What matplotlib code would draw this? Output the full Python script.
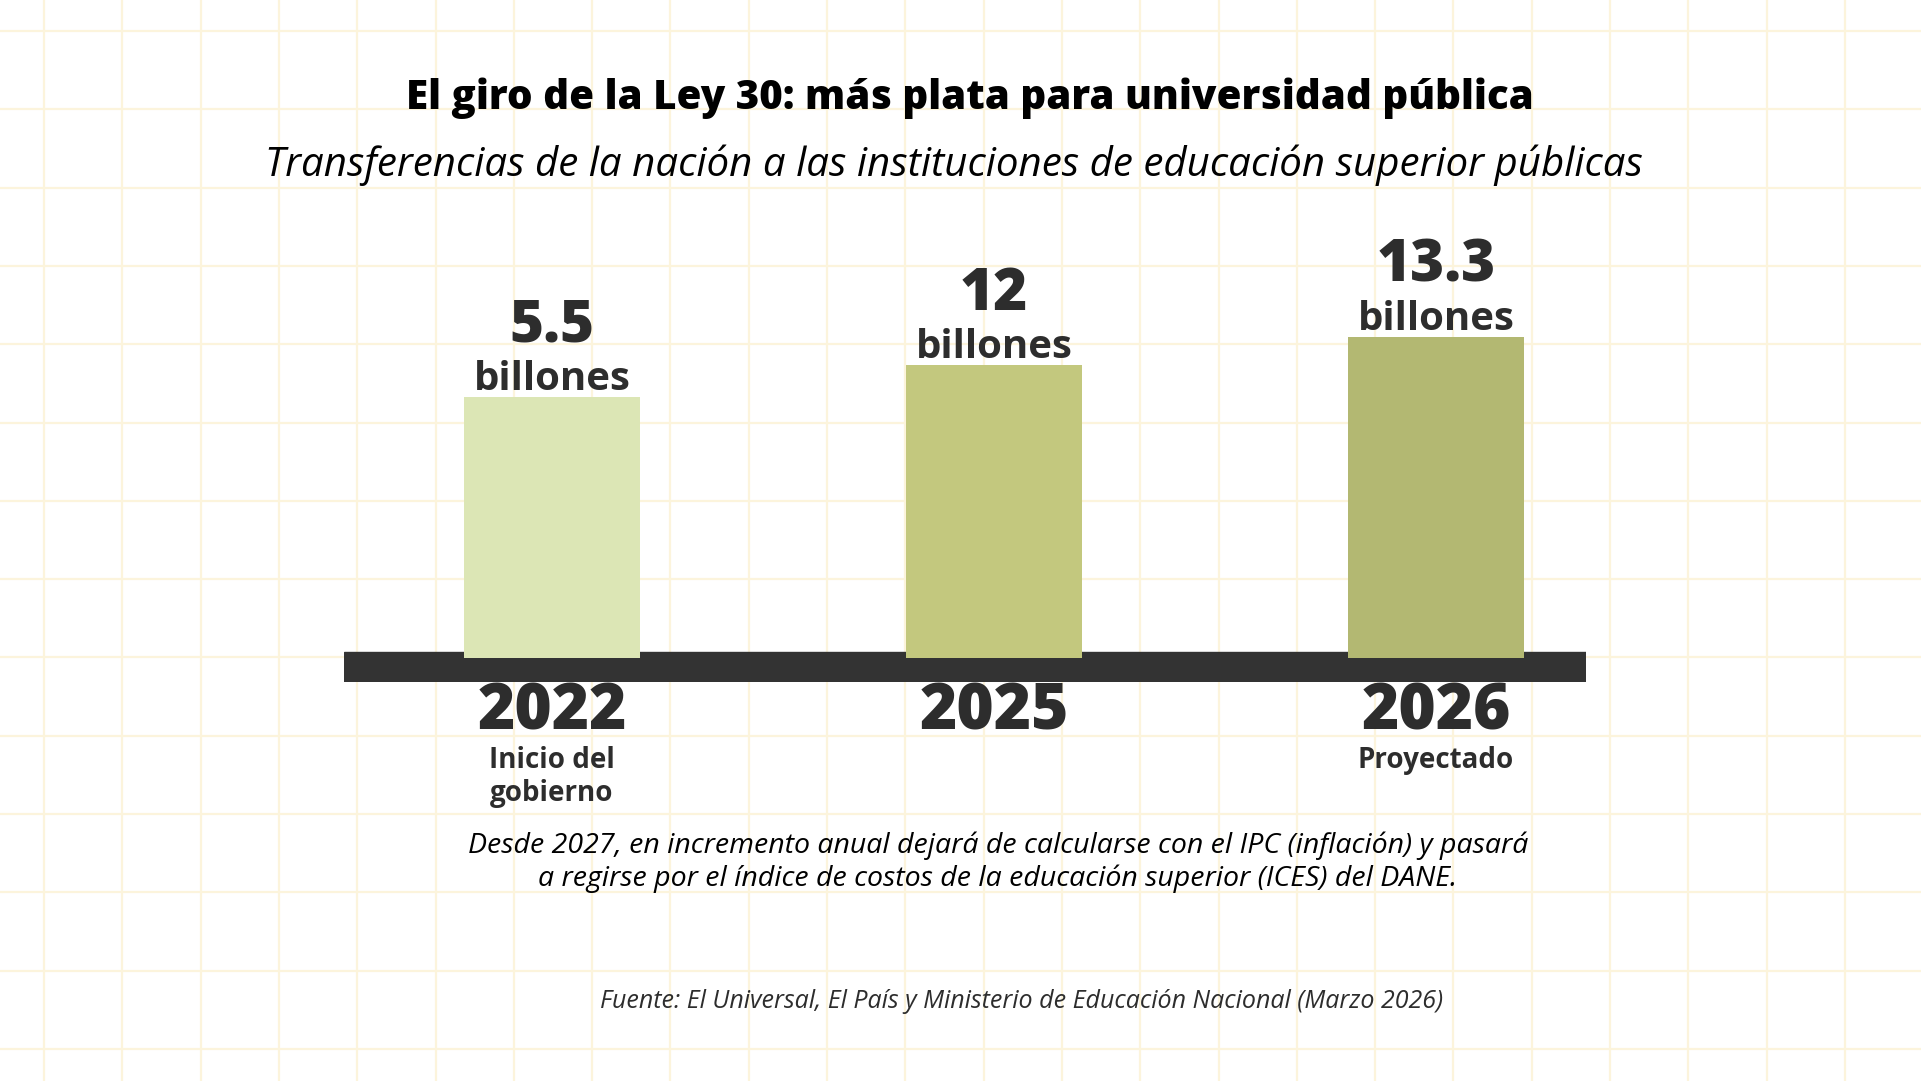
import numpy as np
import matplotlib.pyplot as plt

# data
years = ['2022', '2025', '2026']
values = ['5.5', '12', '13.3']            # billones de pesos
units = ['billones', 'billones', 'billones']
sublabels = ['Inicio del\ngobierno', '', 'Proyectado']
# the original bars are not drawn to scale, so keep their drawn heights
bar_heights = [261, 293, 321]
bar_colors = ['#dce6b5', '#c3c87e', '#b3b872']

title = 'El giro de la Ley 30: más plata para universidad pública'
subtitle = 'Transferencias de la nación a las instituciones de educación superior públicas'
note = ('Desde 2027, en incremento anual dejará de calcularse con el IPC (inflación) y pasará\n'
        'a regirse por el índice de costos de la educación superior (ICES) del DANE.')
source = 'Fuente: El Universal, El País y Ministerio de Educación Nacional (Marzo 2026)'

W, H = 1921, 1081
plt.rcParams['font.family'] = ['Open Sans', 'DejaVu Sans']
fig = plt.figure(figsize=(W / 100, H / 100), dpi=100)
fig.patch.set_facecolor('white')

# background with the notebook grid, in pixel coordinates
bg = fig.add_axes([0, 0, 1, 1])
bg.set_xlim(0, W)
bg.set_ylim(H, 0)
bg.axis('off')
for gx in np.arange(44, W, 78.3):
    bg.axvline(gx, color='#fcf4dc', lw=1.6, zorder=0)
for gy in np.arange(31, H, 78.3):
    bg.axhline(gy, color='#fcf4dc', lw=1.6, zorder=0)

ink = '#2d2d2d'
bg.text(W / 2 + 9, 98, title, ha='center', va='center', fontsize=29,
        fontweight='heavy', color='black')
bg.text(W / 2 - 7, 165, subtitle, ha='center', va='center', fontsize=29,
        style='italic', color='black')
bg.text(998, 862, note, ha='center', va='center', fontsize=20.5, style='italic',
        fontweight='medium', color='black', linespacing=1.2)
bg.text(1022, 1001, source, ha='center', va='center', fontsize=18,
        style='italic', color=ink)

# bar area
ax = fig.add_axes([344 / W, (H - 682) / H, (1586 - 344) / W, 500 / H])
ax.set_xlim(-208 / 442, 1034 / 442)
ax.set_ylim(-24, 476)
ax.axis('off')
ax.patch.set_alpha(0)

x = np.arange(len(years))
ax.axhspan(-24, 6, color='#333333', zorder=1)
ax.bar(x, bar_heights, width=0.40, color=bar_colors, zorder=2)

for i in range(len(years)):
    h = bar_heights[i]
    ax.text(x[i], h + 7, units[i], ha='center', va='baseline', fontsize=29,
            fontweight='bold', color=ink, zorder=3)
    ax.text(x[i], h + 55, values[i], ha='center', va='baseline', fontsize=42,
            fontweight='heavy', color=ink, zorder=3)
    ax.text(x[i], -71, years[i], ha='center', va='baseline', fontsize=46,
            fontweight='heavy', color=ink, zorder=3)
    if sublabels[i]:
        ax.text(x[i], -88, sublabels[i], ha='center', va='top', fontsize=20,
                fontweight='bold', color=ink, linespacing=1.18, zorder=3)

fig.savefig('out.png', dpi=100, facecolor='white')
